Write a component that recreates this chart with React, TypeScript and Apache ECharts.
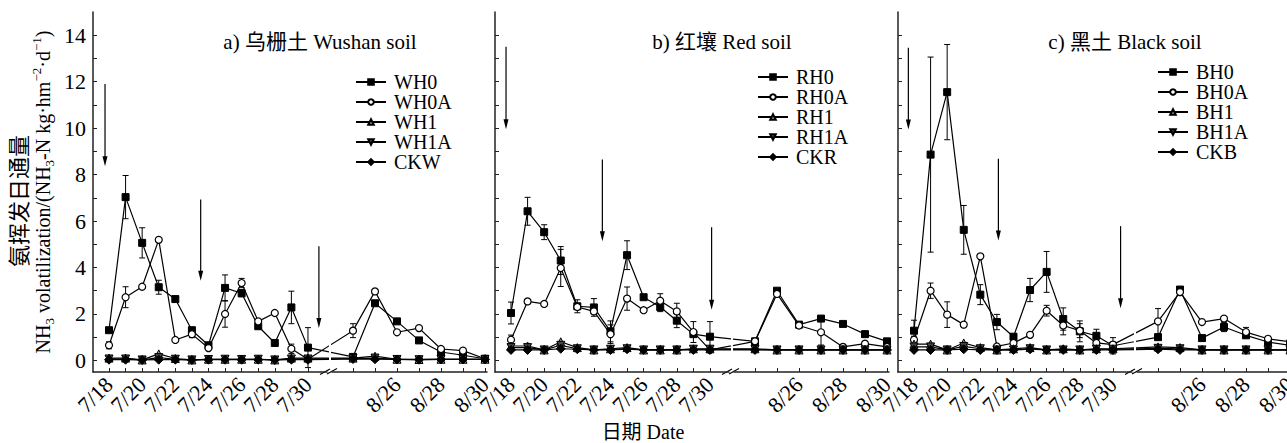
import React, { useEffect, useRef } from "react";
import * as echarts from "echarts";

const FONT = "'Liberation Serif', 'Times New Roman', 'Noto Sans CJK SC', serif";

// ---------- categories / ticks ----------
const julyDates = ["7/18", "7/19", "7/20", "7/21", "7/22", "7/23", "7/24", "7/25", "7/26", "7/27", "7/28", "7/29", "7/30"];
const augDates = ["8/24", "8/25", "8/26", "8/27", "8/28", "8/29", "8/30"];
const julyTickIdx = [0, 1, 2, 3, 4, 5, 6, 7, 8, 9, 10, 11, 12];
const julyLabelIdx = [0, 2, 4, 6, 8, 10, 12];
const augTickIdx = [0, 1, 2, 3, 4, 5, 6];
const augLabelIdx = [2, 4, 6];
const yTickValues = [0, 1, 2, 3, 4, 5, 6, 7, 8, 9, 10, 11, 12, 13, 14];
const yLabelValues = [0, 2, 4, 6, 8, 10, 12, 14];

const panelTitles = ["a) 乌栅土 Wushan soil", "b) 红壤 Red soil", "c) 黑土 Black soil"];
const namesWushan = ["WH0", "WH0A", "WH1", "WH1A", "CKW"];
const namesRed = ["RH0", "RH0A", "RH1", "RH1A", "CKR"];
const namesBlack = ["BH0", "BH0A", "BH1", "BH1A", "CKB"];

// ---------- panel a: Wushan soil ----------
const WH0_jul = [1.3, 7.03, 5.06, 3.15, 2.64, 1.3, 0.65, 3.12, 2.89, 1.47, 0.75, 2.28, 0.55];
const WH0_jul_err = [0.1, 0.93, 0.65, 0.3, 0.1, 0.12, 0.08, 0.56, 0.15, 0.1, 0.12, 0.7, 0.86];
const WH0A_jul = [0.65, 2.72, 3.17, 5.19, 0.88, 1.13, 0.53, 2.0, 3.33, 1.68, 2.04, 0.5, 0.05];
const WH0A_jul_err = [0.15, 0.45, 0.05, 0.05, 0.05, 0.15, 0.05, 0.57, 0.2, 0.05, 0.05, 0.2, 0];
const WH1_jul = [0.1, 0.1, 0.02, 0.28, 0.08, 0.02, 0.05, 0.05, 0.05, 0.05, 0.02, 0.1, 0.1];
const WH1A_jul = [0.06, 0.06, 0.02, 0.12, 0.05, 0.02, 0.04, 0.05, 0.04, 0.05, 0.02, 0.06, 0.06];
const CKW_jul = [0.03, 0.03, 0.02, 0.03, 0.03, 0.02, 0.03, 0.03, 0.03, 0.03, 0.02, 0.03, 0.03];
const WH0_aug = [0.15, 2.46, 1.68, 0.86, 0.36, 0.22, 0.07];
const WH0_aug_err = [0, 0, 0, 0, 0, 0, 0];
const WH0A_aug = [1.28, 2.97, 1.21, 1.39, 0.49, 0.42, 0.07];
const WH0A_aug_err = [0.3, 0.05, 0, 0, 0.05, 0, 0];
const WH1_aug = [0.1, 0.18, 0.05, 0.04, 0.05, 0.05, 0.05];
const WH1A_aug = [0.08, 0.1, 0.04, 0.03, 0.04, 0.04, 0.04];
const CKW_aug = [0.06, 0.05, 0.04, 0.03, 0.04, 0.04, 0.04];
const arrowsWushan = [[-0.24, 11.9, 8.36], [5.53, 6.93, 3.43], [12.66, 4.91, 1.39]];

// ---------- panel b: Red soil ----------
const RH0_jul = [2.04, 6.42, 5.52, 4.3, 2.33, 2.28, 1.25, 4.53, 2.72, 2.3, 1.71, 1.13, 1.02];
const RH0_jul_err = [0.47, 0.6, 0.32, 0.6, 0.28, 0.38, 0.45, 0.62, 0.1, 0.2, 0.3, 0.1, 0.65];
const RH0A_jul = [0.89, 2.54, 2.43, 3.98, 2.3, 2.11, 1.13, 2.66, 2.16, 2.57, 2.11, 1.22, 0.45];
const RH0A_jul_err = [0.2, 0.05, 0.1, 0.8, 0.1, 0.1, 0.4, 0.5, 0.1, 0.3, 0.35, 0.45, 0];
const RH1_jul = [0.62, 0.62, 0.45, 0.8, 0.55, 0.45, 0.5, 0.55, 0.45, 0.45, 0.45, 0.5, 0.5];
const RH1A_jul = [0.55, 0.55, 0.45, 0.65, 0.5, 0.45, 0.48, 0.5, 0.45, 0.45, 0.45, 0.48, 0.48];
const CKR_jul = [0.45, 0.45, 0.45, 0.5, 0.48, 0.45, 0.45, 0.48, 0.45, 0.45, 0.45, 0.45, 0.45];
const RH0_aug = [0.82, 3.0, 1.54, 1.8, 1.57, 1.13, 0.82];
const RH0_aug_err = [0, 0.05, 0, 0, 0, 0.12, 0];
const RH0A_aug = [0.82, 2.86, 1.5, 1.21, 0.58, 0.72, 0.58];
const RH0A_aug_err = [0, 0, 0, 0.55, 0, 0, 0];
const RH1_aug = [0.5, 0.45, 0.45, 0.45, 0.45, 0.45, 0.45];
const RH1A_aug = [0.47, 0.45, 0.45, 0.45, 0.45, 0.45, 0.45];
const CKR_aug = [0.45, 0.45, 0.45, 0.45, 0.45, 0.45, 0.45];
const arrowsRed = [[-0.3, 13.5, 9.95], [5.51, 8.65, 5.13], [12.1, 5.73, 2.18]];

// ---------- panel c: Black soil ----------
const BH0_jul = [1.28, 8.86, 11.55, 5.62, 2.83, 1.65, 1.02, 3.03, 3.81, 1.78, 1.25, 1.06, 0.63];
const BH0_jul_err = [0.45, 4.2, 2.05, 1.05, 0.43, 0.33, 0.1, 0.5, 0.88, 0.48, 0.45, 0.28, 0.35];
const BH0A_jul = [0.89, 3.0, 1.97, 1.54, 4.48, 0.6, 0.75, 1.1, 2.14, 1.5, 1.28, 0.75, 0.68];
const BH0A_jul_err = [0.15, 0.33, 0.55, 0.05, 0.05, 0.05, 0.05, 0.05, 0.23, 0.4, 0.3, 0.2, 0.1];
const BH1_jul = [0.7, 0.7, 0.45, 0.75, 0.55, 0.45, 0.5, 0.55, 0.45, 0.5, 0.45, 0.5, 0.5];
const BH1A_jul = [0.58, 0.58, 0.45, 0.6, 0.5, 0.45, 0.45, 0.5, 0.45, 0.45, 0.45, 0.48, 0.48];
const CKB_jul = [0.45, 0.45, 0.45, 0.48, 0.45, 0.45, 0.45, 0.48, 0.45, 0.45, 0.45, 0.45, 0.45];
const BH0_aug = [1.0, 3.05, 0.96, 1.44, 1.08, 0.79, 0.65];
const BH0_aug_err = [0, 0, 0, 0.2, 0, 0, 0];
const BH0A_aug = [1.68, 2.94, 1.65, 1.8, 1.22, 0.93, 0.8];
const BH0A_aug_err = [0.55, 0, 0, 0, 0.2, 0.1, 0];
const BH1_aug = [0.58, 0.55, 0.45, 0.45, 0.45, 0.45, 0.45];
const BH1A_aug = [0.52, 0.5, 0.45, 0.45, 0.45, 0.45, 0.45];
const CKB_aug = [0.48, 0.45, 0.45, 0.45, 0.45, 0.45, 0.45];
const arrowsBlack = [[-0.34, 13.46, 9.94], [5.09, 8.68, 5.16], [12.46, 5.78, 2.25]];

// ---------- layout ----------
const TOP = 12;
const PLOT_H = 360;
const Y_MIN = -0.5;
const Y_MAX = 15;
const PANEL_OFFSET = [0, 402, 805];
const S1_LEFT = 93, S1_RIGHT = 327, S1_FIRST = 109, S1_STEP = 16.58;
const S2_LEFT = 332, S2_RIGHT = 487, S2_FIRST = 353, S2_STEP = 22;
const S1_MIN = (S1_LEFT - S1_FIRST) / S1_STEP;
const S1_MAX = (S1_RIGHT - S1_FIRST) / S1_STEP;
const S2_MIN = (S2_LEFT - S2_FIRST) / S2_STEP;
const S2_MAX = (S2_RIGHT - S2_FIRST) / S2_STEP;
const BRIDGE1_X = (S2_FIRST - S1_FIRST) / S1_STEP;
const BRIDGE2_X = (S1_FIRST + 12 * S1_STEP - S2_FIRST) / S2_STEP;
const LEGEND_POS = [[355, 72], [757, 67], [1157, 62]];

const PANELS = [
  {
    names: namesWushan,
    jul: [WH0_jul, WH0A_jul, WH1_jul, WH1A_jul, CKW_jul],
    aug: [WH0_aug, WH0A_aug, WH1_aug, WH1A_aug, CKW_aug],
    julErr: [WH0_jul_err, WH0A_jul_err],
    augErr: [WH0_aug_err, WH0A_aug_err],
    arrows: arrowsWushan,
  },
  {
    names: namesRed,
    jul: [RH0_jul, RH0A_jul, RH1_jul, RH1A_jul, CKR_jul],
    aug: [RH0_aug, RH0A_aug, RH1_aug, RH1A_aug, CKR_aug],
    julErr: [RH0_jul_err, RH0A_jul_err],
    augErr: [RH0_aug_err, RH0A_aug_err],
    arrows: arrowsRed,
  },
  {
    names: namesBlack,
    jul: [BH0_jul, BH0A_jul, BH1_jul, BH1A_jul, CKB_jul],
    aug: [BH0_aug, BH0A_aug, BH1_aug, BH1A_aug, CKB_aug],
    julErr: [BH0_jul_err, BH0A_jul_err],
    augErr: [BH0_aug_err, BH0A_aug_err],
    arrows: arrowsBlack,
  },
];

const MARKERS: any[] = [
  { symbol: "rect", symbolSize: 7, symbolRotate: 0, itemStyle: { color: "#000", borderColor: "#000", borderWidth: 1 } },
  { symbol: "circle", symbolSize: 7, symbolRotate: 0, itemStyle: { color: "#fff", borderColor: "#000", borderWidth: 1.2 } },
  { symbol: "triangle", symbolSize: 8, symbolRotate: 0, itemStyle: { color: "#9a9a9a", borderColor: "#000", borderWidth: 1 } },
  { symbol: "triangle", symbolSize: 8, symbolRotate: 180, itemStyle: { color: "#444", borderColor: "#000", borderWidth: 1 } },
  { symbol: "diamond", symbolSize: 9, symbolRotate: 0, itemStyle: { color: "#000", borderColor: "#000", borderWidth: 1 } },
];

const AXIS_LINE = { show: true, onZero: false, lineStyle: { color: "#222", width: 1.5 } };

function errRender(params: any, api: any) {
  const x = api.value(0);
  const lo = api.value(1);
  const hi = api.value(2);
  const a = api.coord([x, hi]);
  const b = api.coord([x, lo]);
  const st = { stroke: "#000", lineWidth: 1 };
  return {
    type: "group",
    children: [
      { type: "line", shape: { x1: a[0], y1: a[1], x2: b[0], y2: b[1] }, style: st },
      { type: "line", shape: { x1: a[0] - 3, y1: a[1], x2: a[0] + 3, y2: a[1] }, style: st },
      { type: "line", shape: { x1: b[0] - 3, y1: b[1], x2: b[0] + 3, y2: b[1] }, style: st },
    ],
  };
}

function arrowRender(params: any, api: any) {
  const x = api.value(0);
  const a = api.coord([x, api.value(1)]);
  const b = api.coord([x, api.value(2)]);
  return {
    type: "group",
    children: [
      { type: "line", shape: { x1: a[0], y1: a[1], x2: b[0], y2: b[1] - 6 }, style: { stroke: "#000", lineWidth: 1.2 } },
      {
        type: "polygon",
        shape: { points: [[b[0], b[1]], [b[0] - 2.5, b[1] - 10], [b[0] + 2.5, b[1] - 10]] },
        style: { fill: "#000" },
      },
    ],
  };
}

function buildOption() {
  const grid: any[] = [];
  const xAxis: any[] = [];
  const yAxis: any[] = [];
  const series: any[] = [];
  const legend: any[] = [];
  const graphic: any[] = [];

  PANELS.forEach((p, pi) => {
    const off = PANEL_OFFSET[pi];
    const g1 = pi * 2;
    const g2 = pi * 2 + 1;
    grid.push({ left: S1_LEFT + off, width: S1_RIGHT - S1_LEFT, top: TOP, height: PLOT_H, outerBoundsMode: "none", containLabel: false });
    grid.push({ left: S2_LEFT + off, width: S2_RIGHT - S2_LEFT, top: TOP, height: PLOT_H, outerBoundsMode: "none", containLabel: false });

    xAxis.push({
      type: "value", gridIndex: g1, min: S1_MIN, max: S1_MAX,
      axisLine: AXIS_LINE,
      axisTick: { show: true, inside: true, length: 4, customValues: julyTickIdx, lineStyle: { color: "#222", width: 1 } },
      axisLabel: {
        show: true, customValues: julyLabelIdx, rotate: 45, margin: 9,
        fontFamily: FONT, fontSize: 22, color: "#000",
        formatter: (v: number) => julyDates[Math.round(v)] || "",
      },
      splitLine: { show: false },
    });
    xAxis.push({
      type: "value", gridIndex: g2, min: S2_MIN, max: S2_MAX,
      axisLine: AXIS_LINE,
      axisTick: { show: true, inside: true, length: 4, customValues: augTickIdx, lineStyle: { color: "#222", width: 1 } },
      axisLabel: {
        show: true, customValues: augLabelIdx, rotate: 45, margin: 9,
        fontFamily: FONT, fontSize: 22, color: "#000",
        formatter: (v: number) => augDates[Math.round(v)] || "",
      },
      splitLine: { show: false },
    });
    yAxis.push({
      type: "value", gridIndex: g1, min: Y_MIN, max: Y_MAX,
      axisLine: AXIS_LINE,
      axisTick: { show: true, inside: true, length: 4, customValues: yTickValues, lineStyle: { color: "#222", width: 1 } },
      axisLabel: {
        show: pi === 0, customValues: yLabelValues, margin: 7,
        fontFamily: FONT, fontSize: 22, color: "#000",
      },
      splitLine: { show: false },
    });
    yAxis.push({
      type: "value", gridIndex: g2, min: Y_MIN, max: Y_MAX, show: false,
      splitLine: { show: false },
    });

    p.julErr.forEach((errs, k) => {
      const vals = p.jul[k];
      const d = errs.map((e, i) => (e > 0 ? [i, vals[i] - e, vals[i] + e] : null)).filter(Boolean);
      series.push({ type: "custom", xAxisIndex: g1, yAxisIndex: g1, renderItem: errRender, data: d, encode: { x: 0, y: [1, 2] }, z: 1, silent: true, clip: true });
    });
    p.augErr.forEach((errs, k) => {
      const vals = p.aug[k];
      const d = errs.map((e, i) => (e > 0 ? [i, vals[i] - e, vals[i] + e] : null)).filter(Boolean);
      series.push({ type: "custom", xAxisIndex: g2, yAxisIndex: g2, renderItem: errRender, data: d, encode: { x: 0, y: [1, 2] }, z: 1, silent: true, clip: true });
    });

    p.names.forEach((name, k) => {
      const m = MARKERS[k];
      const jul = p.jul[k];
      const aug = p.aug[k];
      const common = {
        type: "line", name, symbol: m.symbol, symbolSize: m.symbolSize, symbolRotate: m.symbolRotate,
        itemStyle: m.itemStyle, lineStyle: { color: "#000", width: 1.2 },
        emphasis: { disabled: true }, silent: true, clip: true, z: 2, showSymbol: true,
      };
      const d1: any[] = jul.map((v, i) => [i, v]);
      d1.push({ value: [BRIDGE1_X, aug[0]], symbol: "none" });
      const d2: any[] = [{ value: [BRIDGE2_X, jul[jul.length - 1]], symbol: "none" }];
      aug.forEach((v, i) => d2.push([i, v]));
      series.push({ ...common, xAxisIndex: g1, yAxisIndex: g1, data: d1 });
      series.push({ ...common, xAxisIndex: g2, yAxisIndex: g2, data: d2 });
    });

    series.push({
      type: "custom", xAxisIndex: g1, yAxisIndex: g1, renderItem: arrowRender,
      data: p.arrows, encode: { x: 0, y: [1, 2] }, z: 3, silent: true, clip: false,
    });

    legend.push({
      orient: "vertical", left: LEGEND_POS[pi][0], top: LEGEND_POS[pi][1],
      itemWidth: 30, itemHeight: 7, itemGap: 0, padding: 0, selectedMode: false,
      data: p.names,
      textStyle: { fontFamily: FONT, fontSize: 20, color: "#000", lineHeight: 19, padding: [0, 0, 0, 3] },
    });

    graphic.push({
      type: "text", x: 320 + off, y: 42, silent: true,
      style: { text: panelTitles[pi], font: `21px ${FONT}`, fill: "#000", textAlign: "center", textVerticalAlign: "middle" },
    });

    const cx = (S1_RIGHT + S2_LEFT) / 2 + off;
    const yb = TOP + PLOT_H;
    graphic.push({ type: "line", silent: true, shape: { x1: cx - 9.5, y1: yb + 2.5, x2: cx + 0.5, y2: yb - 3 }, style: { stroke: "#000", lineWidth: 1.1 } });
    graphic.push({ type: "line", silent: true, shape: { x1: cx - 2.5, y1: yb + 2, x2: cx + 7.5, y2: yb - 3.5 }, style: { stroke: "#000", lineWidth: 1.1 } });
  });

  graphic.push({
    type: "text", x: 19, y: 201, rotation: Math.PI / 2, silent: true,
    style: { text: "氨挥发日通量", font: `22px ${FONT}`, fill: "#000", textAlign: "center", textVerticalAlign: "middle" },
  });
  graphic.push({
    type: "text", x: 43, y: 192, rotation: Math.PI / 2, silent: true,
    style: {
      text: "{n|NH}{s|3}{n| volatilization/(NH}{s|3}{n|-N kg·hm}{p|−2}{n|·d}{p|−1}{n|)}",
      textAlign: "center", textVerticalAlign: "middle", fill: "#000",
      rich: {
        n: { fontFamily: FONT, fontSize: 20, lineHeight: 26, fill: "#000" },
        s: { fontFamily: FONT, fontSize: 13, lineHeight: 13, verticalAlign: "bottom", fill: "#000" },
        p: { fontFamily: FONT, fontSize: 13, lineHeight: 13, verticalAlign: "top", fill: "#000" },
      },
    },
  });
  graphic.push({
    type: "text", x: 643, y: 432, silent: true,
    style: { text: "日期 Date", font: `20px ${FONT}`, fill: "#000", textAlign: "center", textVerticalAlign: "middle" },
  });

  return {
    animation: false,
    backgroundColor: "#fff",
    textStyle: { fontFamily: FONT },
    grid, xAxis, yAxis, series, legend, graphic,
  };
}

export default function App() {
  const ref = useRef<HTMLDivElement>(null);
  useEffect(() => {
    if (!ref.current) return;
    const chart = echarts.init(ref.current, undefined, { renderer: "svg" });
    chart.setOption(buildOption() as any);
    return () => chart.dispose();
  }, []);
  return <div ref={ref} style={{ position: "absolute", left: 0, top: 0, width: 1287, height: 443 }} />;
}
